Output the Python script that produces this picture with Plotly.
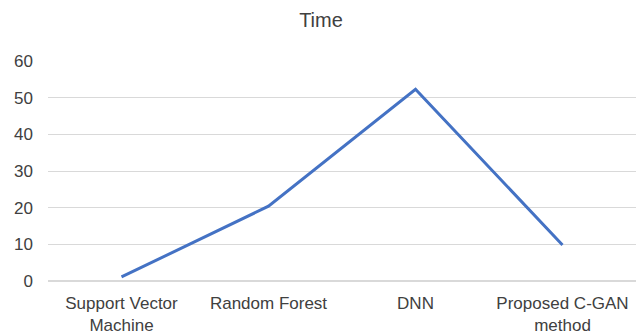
import plotly.graph_objects as go

methods = ["Support Vector<br>Machine", "Random Forest", "DNN", "Proposed C-GAN<br>method"]
time_values = [1.1, 20.4, 52.3, 9.8]
y_ticks = [0, 10, 20, 30, 40, 50, 60]

fig = go.Figure(
    go.Scatter(
        x=methods,
        y=time_values,
        mode="lines",
        line=dict(color="#4472C4", width=3),
        showlegend=False,
    )
)

fig.update_layout(
    width=642,
    height=334,
    margin=dict(l=48, r=6, t=61, b=53),
    paper_bgcolor="white",
    plot_bgcolor="white",
    font=dict(family="Liberation Sans, Arial, sans-serif", size=17, color="#404040"),
    title=dict(text="Time", x=0.5, xanchor="center", y=0.94, yanchor="middle",
               font=dict(size=20, color="#404040")),
)
fig.update_xaxes(range=[-0.5, 3.5], showgrid=False, showline=False, zeroline=False,
                 ticks="", ticklabelstandoff=10, automargin=False, tickfont=dict(size=17))
fig.update_yaxes(range=[0, 60], tickvals=y_ticks, showgrid=True, gridcolor="#d9d9d9",
                 gridwidth=1, zeroline=True, zerolinecolor="#d9d9d9", showline=False,
                 ticks="", ticklabelstandoff=14, automargin=False, tickfont=dict(size=17))

fig.write_html("out.html")
